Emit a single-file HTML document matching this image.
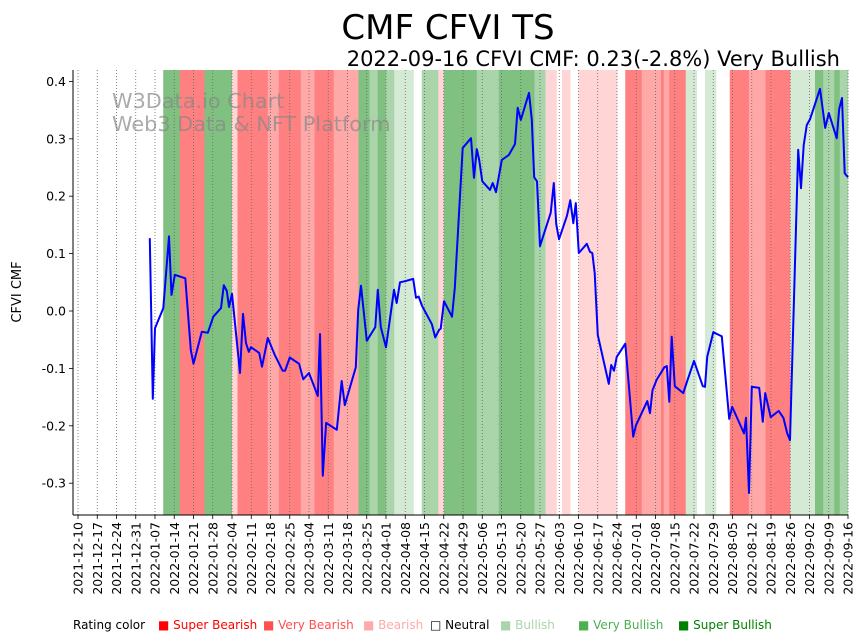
<!DOCTYPE html>
<html><head><meta charset="utf-8">
<style>
body{margin:0;background:#fff;}
svg{display:block;font-family:"DejaVu Sans","Liberation Sans",sans-serif;}
</style></head>
<body>
<svg id="chart" width="864" height="641" viewBox="0 0 864 641" xmlns="http://www.w3.org/2000/svg">
<text x="448" y="39" font-size="34" text-anchor="middle">CMF CFVI TS</text>
<text x="840" y="66" font-size="21" text-anchor="end">2022-09-16 CFVI CMF: 0.23(-2.8%) Very Bullish</text>
<g id="bands"></g>
<g id="grid"></g>
<text x="112" y="108" font-size="20.8" fill="#888" fill-opacity="0.7">W3Data.io Chart</text>
<text x="112" y="131" font-size="20.8" fill="#888" fill-opacity="0.7">Web3 Data &amp; NFT Platform</text>
<g id="series"></g>
<g id="axes"></g>
<text transform="translate(21,292) rotate(-90)" font-size="13" text-anchor="middle">CFVI CMF</text>
<g id="legend" font-size="12"></g>
</svg>
<script>
const NS="http://www.w3.org/2000/svg";
// band start days (offset from 2021-12-10) and ratings (-3..3, 0 neutral)
const bandStarts=[0,31,37,46,56,58,65,69,73,81,86,93,102,106,109,112,115,122,125,131,133,145,153,166,170,174,176,179,182,196,199,205,212,213,215,221,225,228,232,237,244,250,259,268,271,275,277];
const bandRatings=[0,3,-3,3,-1,-3,-3,-2,-3,-2,-3,-2,3,2,3,2,1,0,2,-1,3,2,3,2,-1,0,-1,0,-1,0,-3,-2,-3,-2,-3,1,0,1,0,-3,-2,-3,1,3,2,3,2];
const bandEnd=280;
// series: day offsets and values
const days=[26.1,27.2,28,31,33.1,34,35.2,39,41,42,45,47.2,49.2,52,53,54.1,54.9,56,58.9,60,61.1,62.1,62.9,65.9,66.9,69,71.6,74.4,75.3,77,80.4,81.9,84,87.2,88,89,90.2,94.1,95.9,97,101,101.9,102.9,105,108.1,109,110.1,112,114.9,115.9,117.1,118.9,121.9,122.9,123.9,125.1,128.7,129.9,131.4,131.9,133.1,136,137,139.9,142.9,144,145,145.9,147,149.8,150.8,152,154.1,156.7,158.9,159.9,161,164,165,165.9,166.9,168,171.9,173,173.9,174.9,177.8,179,180.1,181,182.1,185,186.2,187,187.9,189,193,193.9,194.9,195.9,199,201.9,202.9,207,208,208.9,210.4,213.2,214.1,215,215.9,217,220.1,221.3,224,227.2,228,228.8,231,233.2,234.1,235.3,236.8,237.9,240.7,242.2,242.9,244,245,247.7,249,249.9,251.9,254.8,256.5,257.9,258.9,261.9,262.9,263.9,265,266.2,269.8,271.7,273,275.9,276.8,277.8,278.8,280];
const values=[0.127,-0.153,-0.03,0.005,0.13,0.028,0.063,0.057,-0.068,-0.092,-0.036,-0.038,-0.01,0.005,0.045,0.035,0.007,0.03,-0.108,-0.005,-0.056,-0.071,-0.063,-0.073,-0.097,-0.047,-0.077,-0.104,-0.104,-0.081,-0.092,-0.119,-0.108,-0.148,-0.04,-0.287,-0.195,-0.207,-0.122,-0.164,-0.098,0.002,0.044,-0.052,-0.028,0.037,-0.028,-0.063,0.037,0.014,0.05,0.052,0.056,0.023,0.025,0.009,-0.023,-0.046,-0.032,-0.031,0.017,-0.01,0.04,0.284,0.301,0.232,0.282,0.263,0.226,0.211,0.223,0.207,0.263,0.272,0.291,0.354,0.333,0.38,0.333,0.233,0.226,0.113,0.171,0.223,0.152,0.125,0.166,0.193,0.153,0.188,0.101,0.117,0.103,0.101,0.066,-0.042,-0.127,-0.094,-0.104,-0.08,-0.057,-0.219,-0.199,-0.157,-0.178,-0.138,-0.12,-0.098,-0.096,-0.158,-0.045,-0.131,-0.143,-0.125,-0.087,-0.131,-0.132,-0.08,-0.037,-0.042,-0.044,-0.108,-0.188,-0.167,-0.197,-0.213,-0.186,-0.317,-0.132,-0.134,-0.193,-0.143,-0.185,-0.174,-0.186,-0.213,-0.225,0.281,0.214,0.289,0.324,0.334,0.387,0.319,0.345,0.301,0.352,0.371,0.24,0.233];
const yTicks=[0.4,0.3,0.2,0.1,0.0,-0.1,-0.2,-0.3];
const xTickLabels=["2021-12-10","2021-12-17","2021-12-24","2021-12-31","2022-01-07","2022-01-14","2022-01-21","2022-01-28","2022-02-04","2022-02-11","2022-02-18","2022-02-25","2022-03-04","2022-03-11","2022-03-18","2022-03-25","2022-04-01","2022-04-08","2022-04-15","2022-04-22","2022-04-29","2022-05-06","2022-05-13","2022-05-20","2022-05-27","2022-06-03","2022-06-10","2022-06-17","2022-06-24","2022-07-01","2022-07-08","2022-07-15","2022-07-22","2022-07-29","2022-08-05","2022-08-12","2022-08-19","2022-08-26","2022-09-02","2022-09-09","2022-09-16"];
const legendLabels=["Super Bearish","Very Bearish","Bearish","Neutral","Bullish","Very Bullish","Super Bullish"];

const L=73,R=848,T=70,B=515;
const X=d=>78+d*2.75;
const Y=v=>311-v*574;
const bandColor={"-3":"#ff8080","-2":"#ffa8a8","-1":"#ffd5d5","0":"none","1":"#d5ead5","2":"#aad5aa","3":"#80c080"};
function mk(tag,attrs,parent){const e=document.createElementNS(NS,tag);for(const k in attrs)e.setAttribute(k,attrs[k]);parent.appendChild(e);return e;}

const gB=document.getElementById('bands');
bandStarts.forEach((s,i)=>{
  const e=(i+1<bandStarts.length)?bandStarts[i+1]:bandEnd;
  const c=bandColor[String(bandRatings[i])];
  if(c==="none")return;
  const r=mk('rect',{x:X(s),y:T,width:X(e)-X(s)+0.3,height:B-T,fill:c},gB);
  
  
});
const gG=document.getElementById('grid');
const gA=document.getElementById('axes');
xTickLabels.forEach((lab,i)=>{
  const x=X(i*7);
  const g=mk('line',{x1:x,x2:x,y1:T,y2:B,stroke:"#666","stroke-width":0.8,"stroke-dasharray":"1,2"},gG);
  
  
  mk('line',{x1:x,x2:x,y1:B,y2:B+4,stroke:"#000","stroke-width":0.8},gA);
  const t=mk('text',{transform:`translate(${x+4.5},${B+7}) rotate(-90)`,"font-size":12.5,"text-anchor":"end"},gA);
  t.textContent=lab;
  
  
});
yTicks.forEach(v=>{
  const y=Y(v);
  mk('line',{x1:L-4,x2:L,y1:y,y2:y,stroke:"#000","stroke-width":0.8},gA);
  const t=mk('text',{x:L-7,y:y+4.5,"font-size":12.5,"text-anchor":"end"},gA);
  t.textContent=v.toFixed(1);
  
  
});
mk('line',{x1:L,x2:L,y1:T,y2:B,stroke:"#000","stroke-width":1},gA);
mk('line',{x1:L,x2:R,y1:B,y2:B,stroke:"#000","stroke-width":1},gA);

const gS=document.getElementById('series');
const pts=days.map((d,i)=>X(d).toFixed(1)+","+Y(values[i]).toFixed(1)).join(" ");
const pl=mk('polyline',{points:pts,fill:"none",stroke:"#0000ff","stroke-width":2,"stroke-linejoin":"round"},gS);



const gL=document.getElementById('legend');
const t0=mk('text',{x:73,y:629},gL);t0.textContent="Rating color";


const legX=[158,263,363,430,500,578,678];
const legC=["#ff0000","#ff5050","#ffaaaa","#000","#aad5aa","#4caf50","#008000"];
legendLabels.forEach((lab,i)=>{
  const t=mk('text',{x:legX[i],y:629,fill:legC[i]},gL);
  t.textContent=(i===3?"□ ":"■ ")+lab;
  
  
});
</script>
</body></html>
